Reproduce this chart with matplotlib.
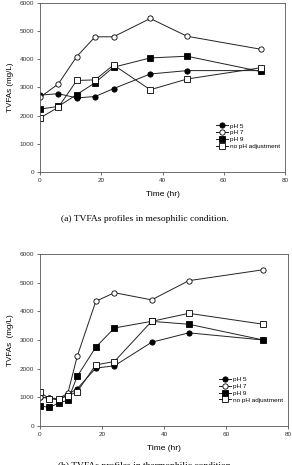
import matplotlib
matplotlib.use("Agg")
import matplotlib.pyplot as plt

# (a) mesophilic
time_a = [0, 6, 12, 18, 24, 36, 48, 72]
a_ph5 = [2730, 2780, 2630, 2680, 2960, 3480, 3600, 3600]
a_ph7 = [2650, 3130, 4100, 4800, 4800, 5450, 4820, 4360]
a_ph9 = [2230, 2330, 2750, 3170, 3720, 4050, 4110, 3570]
a_noph = [1920, 2300, 3250, 3270, 3800, 2920, 3300, 3700]

# (b) thermophilic
time_b = [0, 3, 6, 9, 12, 18, 24, 36, 48, 72]
b_ph5 = [1000, 980, 900, 1100, 1300, 2020, 2100, 2920, 3250, 3000]
b_ph7 = [1000, 980, 950, 1150, 2430, 4350, 4650, 4400, 5070, 5450]
b_ph9 = [700, 650, 800, 900, 1730, 2750, 3420, 3650, 3550, 3000]
b_noph = [1180, 950, 950, 1050, 1200, 2130, 2250, 3650, 3930, 3550]

labels = ["pH 5", "pH 7", "pH 9", "no pH adjustment"]
yticks = [0, 1000, 2000, 3000, 4000, 5000, 6000]
xticks = [0, 20, 40, 60, 80]

W, H = 292, 465
fig = plt.figure(figsize=(W / 100, H / 100), dpi=100)

sans = "Liberation Sans"
serif = "Liberation Serif"

styles = [
    dict(marker="o", mfc="black", mec="black"),
    dict(marker="o", mfc="white", mec="black"),
    dict(marker="s", mfc="black", mec="black"),
    dict(marker="s", mfc="white", mec="black"),
]

def draw(ax, t, series, ylabel):
    for s, lab, st in zip(series, labels, styles):
        ax.plot(t, s, color="#222222", lw=0.7, ms=3.8, mew=0.6, label=lab, **st)
    ax.set_xlim(0, 80)
    ax.set_ylim(0, 6000)
    ax.set_xticks(xticks)
    ax.set_yticks(yticks)
    ax.tick_params(labelsize=4.6, length=2, width=0.5, pad=2, colors="#333333")
    for lab in ax.get_xticklabels() + ax.get_yticklabels():
        lab.set_fontfamily(sans)
    for sp in ax.spines.values():
        sp.set_linewidth(0.6)
        sp.set_color("#555555")
    ax.set_xlabel("Time (hr)", fontsize=6, family=sans, labelpad=6)
    ax.set_ylabel(ylabel, fontsize=5.8, family=sans, labelpad=4)
    ax.legend(loc="lower right", bbox_to_anchor=(1.0, 0.11), frameon=False,
              prop=dict(family=sans, size=4.6), handlelength=2.0,
              labelspacing=0.2, handletextpad=0.3, borderaxespad=0.3)
    return ax

ax1 = fig.add_axes([40 / W, 1 - 172 / H, 245 / W, 169 / H])
draw(ax1, time_a, [a_ph5, a_ph7, a_ph9, a_noph], "TVFAs (mg/L)")
fig.text(145 / W, 1 - 219 / H, "(a) TVFAs profiles in mesophilic condition.",
         ha="center", va="center", fontsize=6.8, family=serif)

ax2 = fig.add_axes([40 / W, 1 - 426 / H, 248 / W, 172 / H])
draw(ax2, time_b, [b_ph5, b_ph7, b_ph9, b_noph], "TVFAs  (mg/L)")
fig.text(145 / W, 1 - 466 / H, "(b) TVFAs profiles in thermophilic condition.",
         ha="center", va="center", fontsize=6.8, family=serif)

fig.savefig("out.png", dpi=100)
